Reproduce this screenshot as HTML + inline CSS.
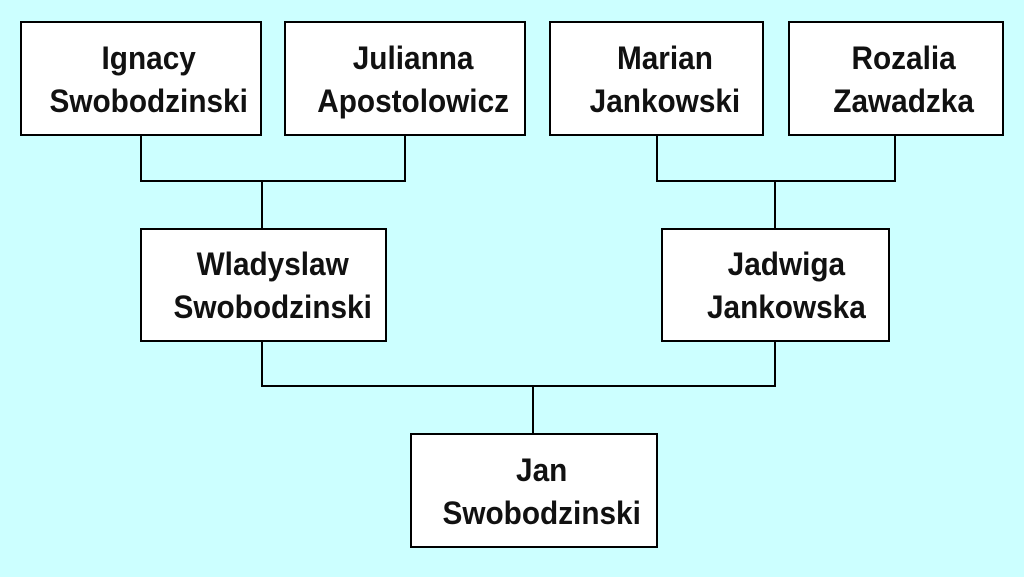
<!DOCTYPE html>
<html><head><style>
body{margin:0;width:1024px;height:577px;background:#ccffff;position:relative;overflow:hidden;font-family:"Liberation Sans",Arial,sans-serif}
.b{position:absolute;background:#fff;border:2px solid #000;box-sizing:border-box;display:flex;align-items:center;justify-content:center;text-align:center;font-weight:bold;font-size:32px;line-height:43px;color:#111;padding-top:2px;padding-left:16px}
.b span{display:inline-block;transform:scaleX(0.93);white-space:nowrap}
.l{position:absolute;background:#000}
</style></head><body>
<div class="l" style="left:140px;top:134px;width:2px;height:48px"></div>
<div class="l" style="left:404px;top:134px;width:2px;height:48px"></div>
<div class="l" style="left:140px;top:180px;width:266px;height:2px"></div>
<div class="l" style="left:261px;top:180px;width:2px;height:49px"></div>
<div class="l" style="left:656px;top:134px;width:2px;height:48px"></div>
<div class="l" style="left:894px;top:134px;width:2px;height:48px"></div>
<div class="l" style="left:656px;top:180px;width:240px;height:2px"></div>
<div class="l" style="left:774px;top:180px;width:2px;height:49px"></div>
<div class="l" style="left:261px;top:340px;width:2px;height:47px"></div>
<div class="l" style="left:774px;top:340px;width:2px;height:47px"></div>
<div class="l" style="left:261px;top:385px;width:515px;height:2px"></div>
<div class="l" style="left:532px;top:385px;width:2px;height:49px"></div>
<div class="b" style="left:20px;top:21px;width:242px;height:115px"><span>Ignacy<br>Swobodzinski</span></div>
<div class="b" style="left:284px;top:21px;width:242px;height:115px"><span>Julianna<br>Apostolowicz</span></div>
<div class="b" style="left:549px;top:21px;width:215px;height:115px"><span>Marian<br>Jankowski</span></div>
<div class="b" style="left:788px;top:21px;width:216px;height:115px"><span>Rozalia<br>Zawadzka</span></div>
<div class="b" style="left:140px;top:228px;width:247px;height:114px;padding-left:18px"><span>Wladyslaw<br>Swobodzinski</span></div>
<div class="b" style="left:661px;top:228px;width:229px;height:114px;padding-left:22px"><span>Jadwiga<br>Jankowska</span></div>
<div class="b" style="left:410px;top:433px;width:248px;height:115px"><span>Jan<br>Swobodzinski</span></div>
</body></html>
